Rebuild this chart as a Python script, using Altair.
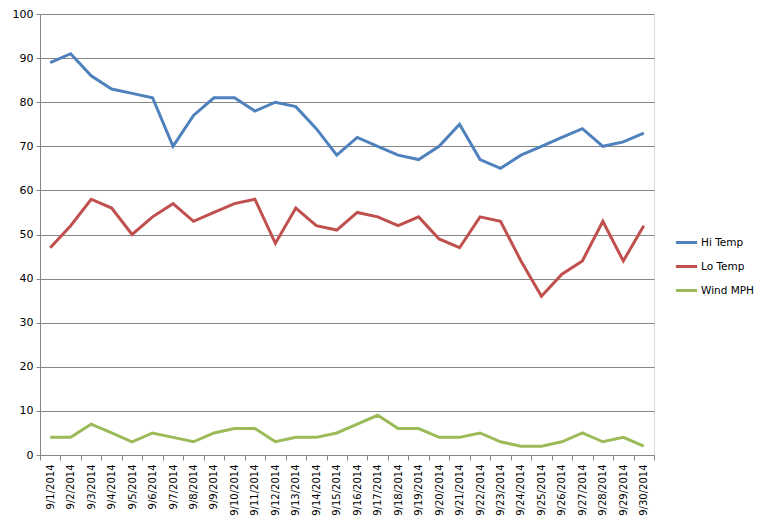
import altair as alt
import pandas as pd

dates = [f"9/{d}/2014" for d in range(1, 31)]
hi_temp = [89, 91, 86, 83, 82, 81, 70, 77, 81, 81, 78, 80, 79, 74, 68,
           72, 70, 68, 67, 70, 75, 67, 65, 68, 70, 72, 74, 70, 71, 73]
lo_temp = [47, 52, 58, 56, 50, 54, 57, 53, 55, 57, 58, 48, 56, 52, 51,
           55, 54, 52, 54, 49, 47, 54, 53, 44, 36, 41, 44, 53, 44, 52]
wind_mph = [4, 4, 7, 5, 3, 5, 4, 3, 5, 6, 6, 3, 4, 4, 5,
            7, 9, 6, 6, 4, 4, 5, 3, 2, 2, 3, 5, 3, 4, 2]
series_names = ["Hi Temp", "Lo Temp", "Wind MPH"]
series_colors = ["#4F81BD", "#C0504D", "#9BBB59"]
y_ticks = [0, 10, 20, 30, 40, 50, 60, 70, 80, 90, 100]

rows = []
for name, vals in zip(series_names, [hi_temp, lo_temp, wind_mph]):
    for d, v in zip(dates, vals):
        rows.append({"date": d, "series": name, "value": v})
df = pd.DataFrame(rows)

font = "DejaVu Sans"

chart = alt.Chart(df).mark_line(strokeWidth=3).encode(
    x=alt.X("date:N", sort=dates, title=None,
            scale=alt.Scale(paddingInner=0, paddingOuter=0),
            axis=alt.Axis(labelAngle=-90, tickBand="extent", grid=False,
                          domainColor="#868686", tickColor="#868686",
                          tickSize=5, labelFontSize=10, labelFont=font,
                          labelColor="#000000", labelPadding=4)),
    y=alt.Y("value:Q", title=None,
            scale=alt.Scale(domain=[0, 100], nice=False),
            axis=alt.Axis(values=y_ticks, grid=True, gridColor="#868686",
                          domainColor="#868686", tickColor="#868686",
                          tickSize=4, labelFontSize=11, labelFont=font,
                          labelColor="#000000", labelPadding=3)),
    color=alt.Color("series:N", sort=series_names,
                    scale=alt.Scale(domain=series_names, range=series_colors),
                    legend=alt.Legend(title=None, orient="none",
                                      legendX=634, legendY=216,
                                      symbolType="stroke", symbolStrokeWidth=3,
                                      symbolSize=450, labelFont=font,
                                      labelFontSize=10.5, labelColor="#000000",
                                      rowPadding=5, labelOffset=2)),
).properties(
    width=614, height=441,
    padding={"left": 32, "top": 6, "right": 104, "bottom": 68},
    autosize=alt.AutoSizeParams(type="none"),
).configure_view(stroke=None).configure(background="white")

chart.save("out.html", embed_options={"renderer": "svg", "actions": False})
